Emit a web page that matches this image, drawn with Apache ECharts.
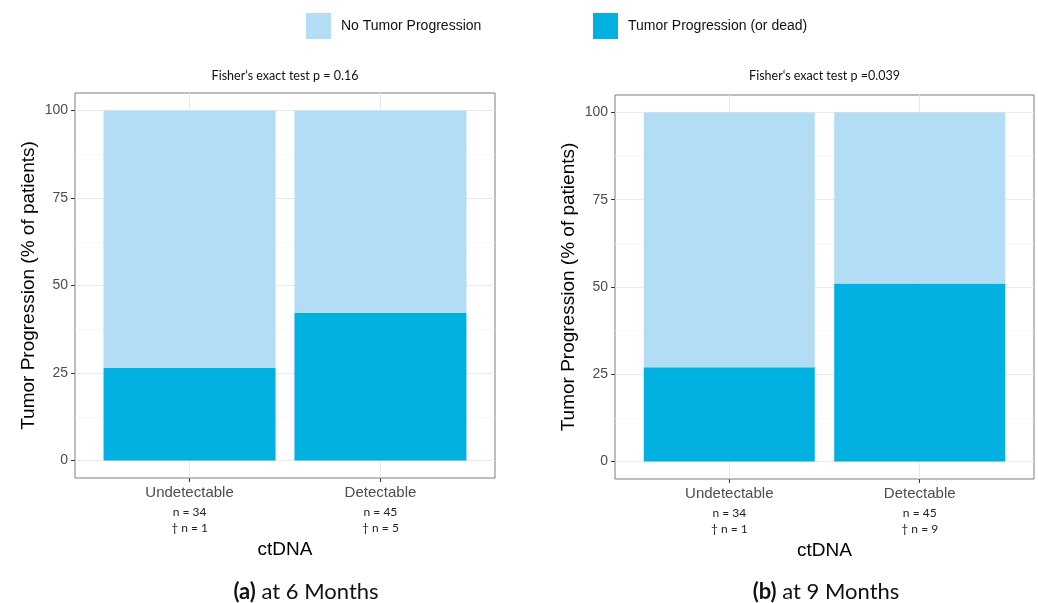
<!DOCTYPE html>
<html>
<head>
<meta charset="utf-8">
<script src="https://cdn.jsdelivr.net/npm/echarts@6/dist/echarts.min.js"></script>
<style>
  html, body { margin: 0; padding: 0; background: #fff; }
  #chart { width: 1038px; height: 603px; }
</style>
</head>
<body>
<div id="chart"></div>
<script>
// ctDNA status groups and their patient counts
const categories = ['Undetectable', 'Detectable'];
const nTotal = [34, 45];
const nDead6 = [1, 5];
const nDead9 = [1, 9];

// Share of patients (%) per group
const progression6 = [26.5, 42.2];
const noProgression6 = [73.5, 57.8];
const progression9 = [27, 51];
const noProgression9 = [73, 49];

// Axis ticks
const yTicks = [0, 25, 50, 75, 100];
const yMinorTicks = [12.5, 37.5, 62.5, 87.5];
const xTicks = [1, 2];

// Panel texts
const testLabels = ['Fisher\u2018s exact test p = 0.16', 'Fisher\u2018s exact test p =0.039'];
const captionTags = ['(a)', '(b)'];
const captionTexts = ['at 6 Months', 'at 9 Months'];

const SERIES_NO = 'No Tumor Progression';
const SERIES_YES = 'Tumor Progression (or dead)';
const COLOR_NO = '#b3ddf4';
const COLOR_YES = '#00b0e0';

const panels = [
  { left: 75, top: 93, width: 420, height: 385, prog: progression6, noProg: noProgression6, dead: nDead6, captionX: 306 },
  { left: 615, top: 95, width: 419, height: 384, prog: progression9, noProg: noProgression9, dead: nDead9, captionX: 826 }
];

const chart = echarts.init(document.getElementById('chart'), null, { renderer: 'canvas' });

const grids = [], xAxes = [], yAxes = [], series = [], graphics = [];

panels.forEach((p, k) => {
  grids.push({
    left: p.left, top: p.top, width: p.width, height: p.height,
    show: true, borderColor: '#7f7f7f', borderWidth: 1, backgroundColor: 'transparent'
  });

  xAxes.push({
    gridIndex: k, type: 'value', min: 0.4, max: 2.6,
    name: 'ctDNA', nameLocation: 'middle', nameGap: 62,
    nameTextStyle: { fontSize: 19, fontFamily: 'Liberation Sans', color: '#000' },
    axisLine: { show: false, onZero: false },
    splitLine: { show: false },
    axisTick: { show: true, customValues: xTicks, length: 4, lineStyle: { color: '#333', width: 1 } },
    axisLabel: {
      customValues: xTicks, margin: 5, color: '#4d4d4d',
      formatter: function (v) {
        const i = Math.round(v) - 1;
        return '{c|' + categories[i] + '}\n{n|n = ' + nTotal[i] + '}\n{d|\u2020 n = ' + p.dead[i] + '}';
      },
      rich: {
        c: { fontSize: 15, fontFamily: 'Liberation Sans', color: '#4d4d4d', lineHeight: 20, align: 'center' },
        n: { fontSize: 12, fontFamily: 'Lato', color: '#222', lineHeight: 18, align: 'center' },
        d: { fontSize: 12, fontFamily: 'Lato', color: '#222', lineHeight: 14, align: 'center' }
      }
    }
  });

  yAxes.push({
    gridIndex: k, type: 'value', min: -5, max: 105,
    name: 'Tumor Progression (% of patients)', nameLocation: 'middle', nameGap: 37,
    nameTextStyle: { fontSize: 19, fontFamily: 'Liberation Sans', color: '#000' },
    axisLine: { show: false, onZero: false },
    splitLine: { show: false },
    axisTick: { show: true, customValues: yTicks, length: 4, lineStyle: { color: '#333', width: 1 } },
    axisLabel: { customValues: yTicks, margin: 7, fontSize: 14, fontFamily: 'Liberation Sans', color: '#4d4d4d' }
  });

  const barWidth = Math.round(0.9 * p.width / 2.2);

  // gridlines behind the bars
  const gridLines = [];
  yMinorTicks.forEach(v => gridLines.push({ yAxis: v, lineStyle: { color: '#f3f3f3', width: 0.7, type: 'solid' } }));
  yTicks.forEach(v => gridLines.push({ yAxis: v, lineStyle: { color: '#e9e9e9', width: 1, type: 'solid' } }));
  xTicks.forEach(v => gridLines.push({ xAxis: v, lineStyle: { color: '#e9e9e9', width: 1, type: 'solid' } }));

  // value first, position second, so stacking runs along the y dimension
  series.push({
    name: SERIES_YES, type: 'bar', stack: 'panel' + k,
    xAxisIndex: k, yAxisIndex: k, barWidth: barWidth,
    encode: { x: 1, y: 0 },
    itemStyle: { color: COLOR_YES },
    data: categories.map((c, i) => [p.prog[i], i + 1]),
    markLine: {
      silent: true, symbol: 'none', z: 1, animation: false,
      label: { show: false }, emphasis: { disabled: true },
      data: gridLines
    }
  });
  series.push({
    name: SERIES_NO, type: 'bar', stack: 'panel' + k,
    xAxisIndex: k, yAxisIndex: k, barWidth: barWidth,
    encode: { x: 1, y: 0 },
    itemStyle: { color: COLOR_NO },
    data: categories.map((c, i) => [p.noProg[i], i + 1])
  });

  const cx = p.left + p.width / 2;
  graphics.push({
    type: 'text', x: cx, y: 76,
    style: {
      text: testLabels[k], textAlign: 'center', textVerticalAlign: 'middle',
      font: '12.5px Lato', fill: '#111'
    }
  });
  graphics.push({
    type: 'text', x: p.captionX, y: 592,
    style: {
      text: '{b|' + captionTags[k] + '} ' + captionTexts[k],
      textAlign: 'center', textVerticalAlign: 'middle',
      font: '22px Lato', fill: '#111',
      rich: { b: { fontWeight: 'bold', fontSize: 22, fontFamily: 'Lato', fill: '#111' } }
    }
  });
});

const legendBase = {
  top: 13, padding: 0, itemWidth: 25, itemHeight: 26, icon: 'rect',
  selectedMode: false,
  textStyle: { fontSize: 14, fontFamily: 'Liberation Sans', color: '#111', padding: [0, 0, 0, 5] }
};

chart.setOption({
  animation: false,
  backgroundColor: '#fff',
  legend: [
    Object.assign({}, legendBase, { left: 306, data: [SERIES_NO] }),
    Object.assign({}, legendBase, { left: 593, data: [SERIES_YES] })
  ],
  grid: grids,
  xAxis: xAxes,
  yAxis: yAxes,
  series: series,
  graphic: graphics
});
</script>
</body>
</html>
